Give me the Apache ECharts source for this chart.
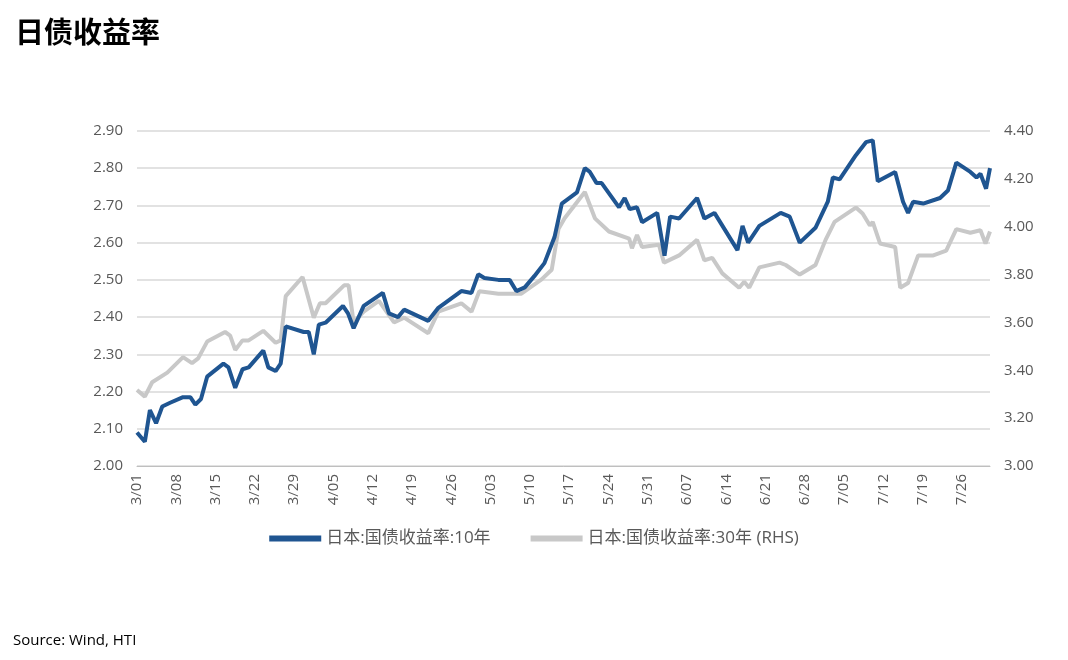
<!DOCTYPE html>
<html><head><meta charset="utf-8">
<script src="https://cdn.jsdelivr.net/npm/echarts@6/dist/echarts.min.js"></script>
<style>html,body{margin:0;background:#fff}#c{width:1068px;height:660px}</style>
</head><body><div id="c"></div>
<script>
// day offsets counted from 3/01
const jgb10Days = [0,1.4,2.3,3.4,4.5,5.9,8.2,9.5,10.4,11.4,12.5,15.4,16.3,17.5,18.8,19.9,22.5,23.4,24.7,25.6,26.5,29.7,30.6,31.5,32.4,33.6,36.7,37.6,38.6,40.4,43.8,44.9,46.5,47.6,51.9,53.7,57.8,59.6,60.8,61.9,64.4,66.4,67.6,69.1,70.8,72.6,74.4,75.7,78.4,79.8,80.7,81.9,82.8,85.9,86.9,87.8,89.1,90.0,92.7,94.0,95.0,96.6,99.8,101.1,102.9,107.0,107.9,108.9,110.9,114.7,116.3,118.1,120.9,123.1,124.0,125.2,128.1,129.9,131.1,132.0,135.1,136.5,137.4,138.3,140.1,143.1,144.5,146.0,148.5,149.6,150.3,151.3,152];
const jgb10 = [2.09,2.065,2.15,2.115,2.16,2.17,2.185,2.185,2.165,2.18,2.24,2.275,2.265,2.21,2.26,2.265,2.31,2.265,2.255,2.275,2.375,2.36,2.36,2.30,2.38,2.385,2.43,2.41,2.37,2.43,2.465,2.41,2.40,2.42,2.39,2.425,2.47,2.465,2.515,2.505,2.50,2.50,2.47,2.48,2.51,2.545,2.615,2.705,2.735,2.80,2.79,2.76,2.76,2.695,2.72,2.69,2.695,2.655,2.68,2.565,2.67,2.665,2.72,2.665,2.68,2.58,2.645,2.60,2.645,2.68,2.67,2.60,2.64,2.71,2.775,2.77,2.835,2.87,2.875,2.765,2.79,2.71,2.68,2.71,2.705,2.72,2.74,2.815,2.79,2.775,2.785,2.745,2.80];
const jgb30Days = [0,1.4,2.7,5.4,8.2,9.8,10.9,12.5,15.7,16.6,17.5,18.8,19.9,22.5,24.7,25.6,26.5,29.5,31.5,32.6,33.6,36.9,37.7,38.6,40.4,43.1,45.8,47.6,51.9,53.7,57.8,59.6,61.0,64.4,68.5,72.1,73.9,75.1,76.2,79.8,81.6,84.1,87.7,88.2,89.1,90.0,93.0,93.9,96.6,99.8,101.1,102.5,104.3,107.3,108.2,109.1,110.9,114.5,115.6,118.1,120.9,122.7,124.3,128.1,129.3,130.6,131.1,132.4,135.1,136.0,137.4,139.2,141.9,144.2,146.0,148.5,150.3,151.2,152];
const jgb30 = [3.318,3.29,3.35,3.39,3.455,3.43,3.45,3.52,3.56,3.545,3.485,3.525,3.525,3.565,3.515,3.525,3.71,3.79,3.62,3.68,3.68,3.755,3.755,3.60,3.645,3.69,3.60,3.62,3.555,3.645,3.68,3.645,3.73,3.72,3.72,3.78,3.82,3.99,4.035,4.145,4.035,3.98,3.95,3.91,3.965,3.915,3.925,3.85,3.88,3.945,3.86,3.87,3.805,3.745,3.77,3.745,3.83,3.85,3.84,3.80,3.84,3.945,4.02,4.08,4.055,4.005,4.02,3.93,3.915,3.745,3.765,3.88,3.88,3.90,3.99,3.975,3.985,3.93,3.98];
const names = ['日本:国债收益率:10年', '日本:国债收益率:30年 (RHS)'];

function dayLabel(d) {
  const dt = new Date(2024, 2, 1 + Math.round(d));
  const m = dt.getMonth() + 1, day = dt.getDate();
  return m + '/' + (day < 10 ? '0' + day : day);
}
const zip = (a, b) => a.map((x, i) => [x, b[i]]);
const font = '"Open Sans", "Noto Sans CJK SC", sans-serif';
const chart = echarts.init(document.getElementById('c'));
chart.setOption({
  animation: false,
  textStyle: { fontFamily: font },
  title: [
    { text: '日债收益率', left: 10, top: 12, textStyle: { fontSize: 29, fontWeight: 'bold', color: '#000', fontFamily: '"Noto Sans CJK SC"' } },
    { text: 'Source: Wind, HTI', left: 8, top: 628, textStyle: { fontSize: 15, fontWeight: 'normal', color: '#000' } }
  ],
  legend: {
    bottom: 108, left: 'center', itemGap: 40, itemWidth: 52, itemHeight: 6,
    icon: 'rect', textStyle: { fontSize: 17, color: '#595959' },
    data: names
  },
  grid: { left: 137, right: 78, top: 131, bottom: 194 },
  xAxis: {
    type: 'value', min: 0, max: 152, interval: 7,
    axisLine: { show: true, lineStyle: { color: '#bfbfbf' } },
    axisTick: { show: false }, splitLine: { show: false },
    axisLabel: { rotate: 90, fontSize: 15, color: '#595959', formatter: v => dayLabel(v), showMaxLabel: false }
  },
  yAxis: [
    { type: 'value', min: 2.0, max: 2.9, interval: 0.1,
      axisLabel: { fontSize: 15, color: '#595959', formatter: v => v.toFixed(2), margin: 14 },
      splitLine: { lineStyle: { color: '#d9d9d9', width: 1.5 } }, axisLine: { show: false }, axisTick: { show: false } },
    { type: 'value', min: 3.0, max: 4.4, interval: 0.2,
      axisLabel: { fontSize: 15, color: '#595959', formatter: v => v.toFixed(2), margin: 14 },
      splitLine: { show: false }, axisLine: { show: false }, axisTick: { show: false } }
  ],
  series: [
    { name: names[1], type: 'line', yAxisIndex: 1, data: zip(jgb30Days, jgb30), showSymbol: false,
      lineStyle: { color: '#c8c8c8', width: 4 }, itemStyle: { color: '#c8c8c8' } },
    { name: names[0], type: 'line', yAxisIndex: 0, data: zip(jgb10Days, jgb10), showSymbol: false,
      lineStyle: { color: '#1f5591', width: 4 }, itemStyle: { color: '#1f5591' } }
  ]
});
</script></body></html>
